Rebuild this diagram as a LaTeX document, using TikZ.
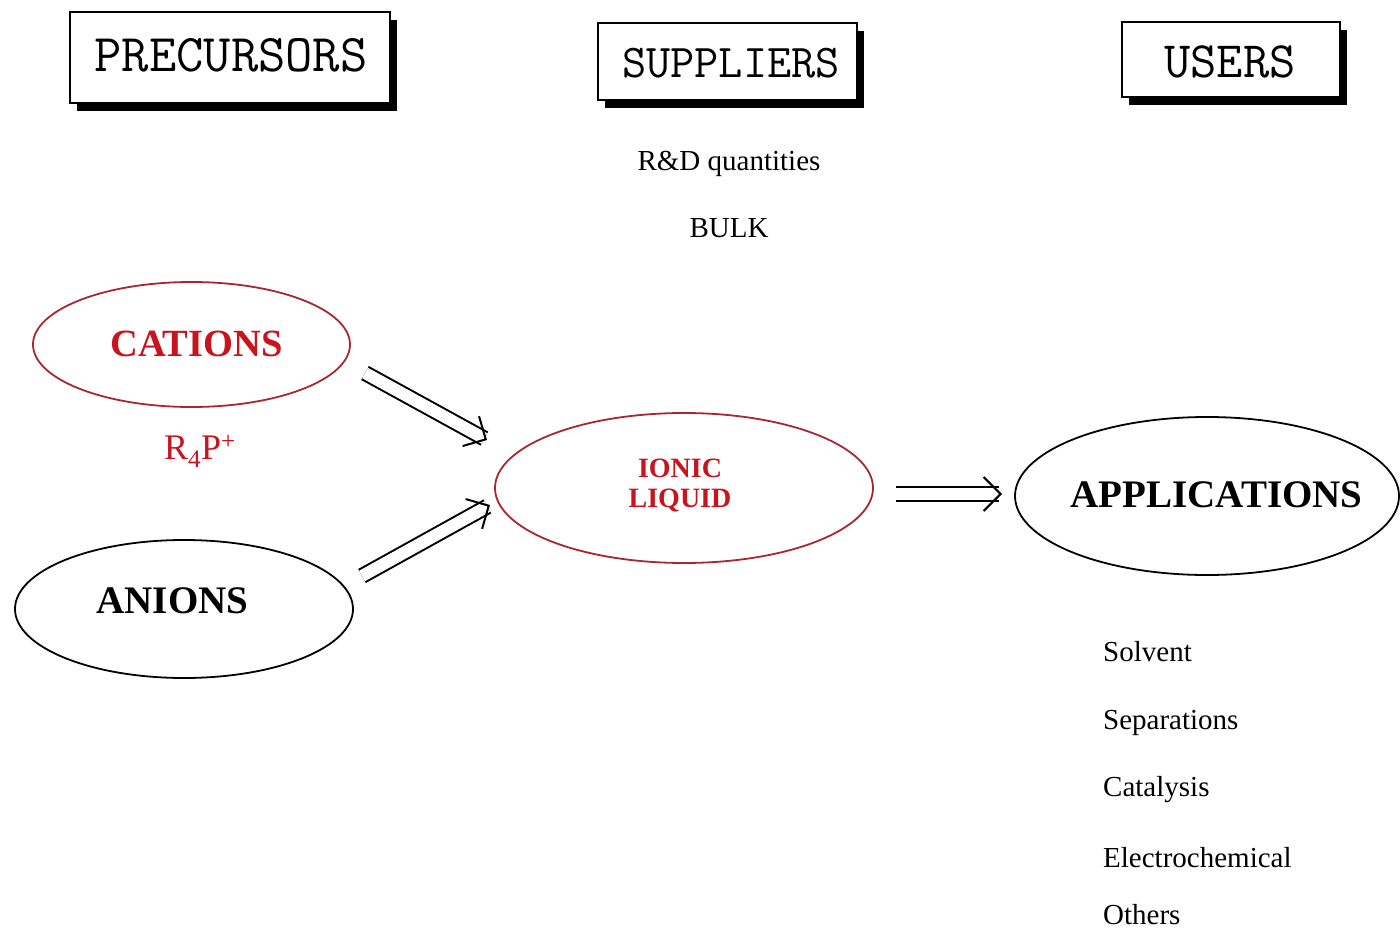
\documentclass[tikz,border=0pt]{standalone}
\usepackage{fontspec}
\setmainfont{Liberation Serif}
\usetikzlibrary{shapes.geometric,arrows.meta,shadows,calc}
\definecolor{ellred}{RGB}{165,40,50}
\definecolor{txtred}{RGB}{200,20,30}
\begin{document}
\begin{tikzpicture}[x=1pt,y=-1pt,
  headbox/.style={draw, line width=2.5pt, fill=white, inner sep=0pt,
    drop shadow={shadow xshift=7pt, shadow yshift=-8pt, fill=black, opacity=1}},
  headtxt/.style={font=\ttfamily\fontsize{#1}{#1}\selectfont, inner sep=0pt, anchor=base},
  oval/.style={draw, ellipse, line width=1.8pt, inner sep=0pt},
  redoval/.style={oval, draw=ellred},
  bigtxt/.style={font=\bfseries\fontsize{#1}{#1}\selectfont, inner sep=0pt, anchor=base},
  smalltxt/.style={font=\fontsize{29}{29}\selectfont, inner sep=0pt},
  dbl/.style={double, line width=2pt, double distance=12pt, shorten >=3pt},
  barb/.style={line width=2pt, -{Straight Barb[length=17pt, width=34pt]}}
]
\useasboundingbox[fill=white] (0,0) rectangle (1400,936);

% header boxes
\node[headbox, minimum width=320pt, minimum height=91pt] (precbox) at (230,57.5) {};
\node[headtxt=53] (prec) at (231,72) {PRECURSORS};
\node[headbox, minimum width=259pt, minimum height=77pt] (suppbox) at (727.5,61.5) {};
\node[headtxt=47] (supp) at (731,78) {SUPPLIERS};
\node[headbox, minimum width=218pt, minimum height=75pt] (userbox) at (1231,59.5) {};
\node[headtxt=51] (user) at (1230,78) {USERS};

% supplier text
\node[smalltxt, anchor=base] (rd) at (729,171) {R\&D quantities};
\node[smalltxt, anchor=base] (bulk) at (729,237) {BULK};

% ovals
\node[redoval, minimum width=317pt, minimum height=125pt] (cations) at (191.5,344.5) {};
\node[bigtxt=38.5, text=txtred] (catt) at (196.5,356) {CATIONS};
\node[font=\fontsize{36}{36}\selectfont, text=txtred, inner sep=0pt, anchor=base] (r4p) at (200,459) {R\textsubscript{4}P\textsuperscript{+}};

\node[oval, minimum width=338pt, minimum height=138pt] (anions) at (184,609) {};
\node[bigtxt=39, text=black] (anit) at (172.5,613) {ANIONS};

\node[redoval, minimum width=378pt, minimum height=150pt] (ionic) at (684,488) {};
\node[bigtxt=28, text=txtred] (ionict) at (680,477) {IONIC};
\node[bigtxt=28, text=txtred] (liqt) at (680,507) {LIQUID};

\node[oval, minimum width=384pt, minimum height=158pt] (apps) at (1207,496) {};
\node[bigtxt=39, text=black] (appt) at (1216.5,507) {APPLICATIONS};

% arrows
\coordinate (ca1) at (365,373);
\coordinate (ca2) at (487,440);
\coordinate (an1) at (362,576);
\coordinate (an2) at (490,505);
\coordinate (il1) at (896,494);
\coordinate (il2) at (1002,494);
\draw[dbl] (ca1) -- (ca2);
\draw[barb] ($(ca2)!2pt!(ca1)$) -- (ca2);
\draw[dbl] (an1) -- (an2);
\draw[barb] ($(an2)!2pt!(an1)$) -- (an2);
\draw[dbl] (il1) -- (il2);
\draw[barb] ($(il2)!2pt!(il1)$) -- (il2);

% applications list
\node[smalltxt, anchor=base west] (l1) at (1103,661) {Solvent};
\node[smalltxt, anchor=base west] (l2) at (1103,729) {Separations};
\node[smalltxt, anchor=base west] (l3) at (1103,796) {Catalysis};
\node[smalltxt, anchor=base west] (l4) at (1103,867) {Electrochemical};
\node[smalltxt, anchor=base west] (l5) at (1103,924) {Others};
\end{tikzpicture}
\end{document}
